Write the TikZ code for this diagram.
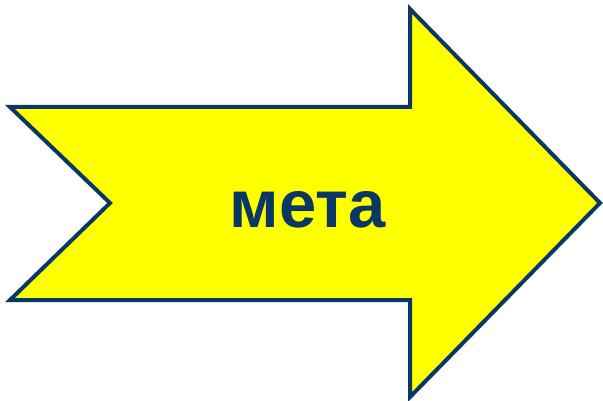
\documentclass[tikz,border=0pt]{standalone}
\usepackage{fontspec}
\setmainfont{Liberation Sans}
\usepackage{xcolor}
\usepackage{tikz}
\usetikzlibrary{positioning}

\definecolor{navy}{HTML}{0B3765}
\definecolor{arrowfill}{HTML}{FFFF00}

\begin{document}
\begin{tikzpicture}[
  x=1pt, y=-1pt,
  bigarrow/.style={draw=navy, fill=arrowfill, line width=4pt, line join=miter},
  word/.style={text=navy, font=\fontsize{67}{67}\selectfont\bfseries, inner sep=0pt},
]
  \useasboundingbox (0,0) rectangle (603,401);

  \coordinate (tl)  at (10, 107);
  \coordinate (st)  at (410, 107);
  \coordinate (ht)  at (410, 9);
  \coordinate (tip) at (600, 203);
  \coordinate (hb)  at (410, 397);
  \coordinate (sb)  at (410, 300);
  \coordinate (bl)  at (10, 300);
  \coordinate (nt)  at (110, 203);

  \draw[bigarrow] (tl) -- (st) -- (ht) -- (tip) -- (hb) -- (sb) -- (bl) -- (nt) -- cycle;

  \node[word, anchor=base] (lbl) at (308, 228) {мета};
\end{tikzpicture}
\end{document}
